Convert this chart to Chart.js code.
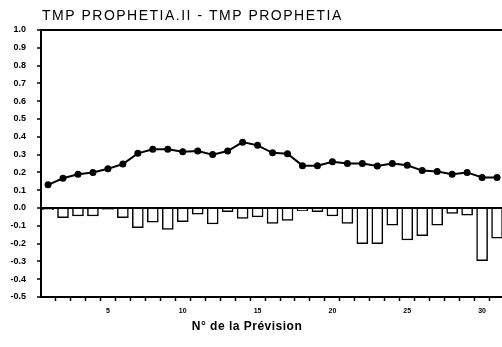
<!DOCTYPE html>
<html>
<head>
<meta charset="utf-8">
<script src="https://cdn.jsdelivr.net/npm/chart.js@4"></script>
<style>
  html, body { margin: 0; padding: 0; background: #fff; }
  #wrap { width: 502px; height: 347px; position: relative; }
</style>
</head>
<body>
<div id="wrap"><canvas id="chart"></canvas></div>
<script>
  // Forecast number (N° de la Prévision)
  var forecastNo = [1, 2, 3, 4, 5, 6, 7, 8, 9, 10, 11, 12, 13, 14, 15, 16,
    17, 18, 19, 20, 21, 22, 23, 24, 25, 26, 27, 28, 29, 30, 31];
  // upper line series
  var lineValues = [0.13, 0.167, 0.19, 0.20, 0.22, 0.247, 0.307, 0.33, 0.33, 0.316,
    0.32, 0.30, 0.32, 0.37, 0.352, 0.31, 0.305, 0.238, 0.238, 0.26, 0.25, 0.25,
    0.236, 0.25, 0.24, 0.21, 0.205, 0.19, 0.20, 0.172, 0.172];
  // lower bar series (all negative)
  var barValues = [-0.01, -0.055, -0.045, -0.045, -0.008, -0.055, -0.11, -0.08, -0.12, -0.077,
    -0.035, -0.09, -0.02, -0.058, -0.05, -0.086, -0.07, -0.015, -0.02, -0.045, -0.086,
    -0.2, -0.2, -0.096, -0.18, -0.155, -0.096, -0.03, -0.04, -0.296, -0.17];
  var xLabelEvery = 5;
  var chartTitle = 'TMP PROPHETIA.II - TMP PROPHETIA';
  var xTitle = 'N° de la Prévision';

  var FONT = '"Liberation Sans", Arial, Helvetica, sans-serif';

  function pts(vals) {
    return vals.map(function (v, i) { return { x: forecastNo[i], y: v }; });
  }

  // both titles drawn at fixed spots (the x title sits left of centre in the original)
  var titlePlugin = {
    id: 'fixedTitles',
    afterDraw: function (chart) {
      var ctx = chart.ctx;
      ctx.save();
      ctx.fillStyle = '#000';
      ctx.textBaseline = 'middle';
      ctx.textAlign = 'left';
      ctx.font = '14px ' + FONT;
      if ('letterSpacing' in ctx) ctx.letterSpacing = '1.5px';
      ctx.fillText(chartTitle, 42, 16);
      if ('letterSpacing' in ctx) ctx.letterSpacing = '0.5px';
      ctx.textAlign = 'center';
      ctx.font = 'bold 12px ' + FONT;
      ctx.fillText(xTitle, 247, 327);
      ctx.restore();
    }
  };

  new Chart(document.getElementById('chart').getContext('2d'), {
    type: 'bar',
    data: {
      datasets: [{
        type: 'line',
        data: pts(lineValues),
        borderColor: '#000',
        backgroundColor: '#000',
        borderWidth: 2,
        pointRadius: 2.5,
        pointBackgroundColor: '#000',
        tension: 0,
        order: 0
      }, {
        type: 'bar',
        data: pts(barValues),
        backgroundColor: '#fff',
        borderColor: '#000',
        borderWidth: 1.5,
        barThickness: 11,
        order: 1
      }]
    },
    options: {
      responsive: true,
      maintainAspectRatio: false,
      animation: false,
      layout: { autoPadding: false, padding: { top: 30, right: 0, left: 0, bottom: 0 } },
      plugins: { legend: { display: false }, tooltip: { enabled: false } },
      scales: {
        x: {
          type: 'linear',
          min: 0.53,
          max: 31.33,
          offset: false,
          afterBuildTicks: function (s) {
            s.ticks = forecastNo.map(function (n) { return { value: n }; });
          },
          afterFit: function (s) { s.height = 50; s.paddingRight = 0; },
          border: { display: true, color: '#000', width: 2 },
          grid: { drawOnChartArea: false, tickLength: 4, tickColor: '#000', tickWidth: 1.5 },
          ticks: {
            autoSkip: false,
            maxRotation: 0,
            padding: 6,
            color: '#000',
            font: { family: FONT, size: 7, weight: 'bold' },
            callback: function (v) { return v % xLabelEvery === 0 ? String(v) : ''; }
          }
        },
        y: {
          min: -0.5,
          max: 1.0,
          afterFit: function (s) { s.width = 41; },
          border: { display: true, color: '#000', width: 2 },
          grid: {
            drawOnChartArea: true,
            tickLength: 4,
            tickColor: '#000',
            tickWidth: 1.5,
            lineWidth: 2,
            color: function (c) {
              var v = c.tick ? c.tick.value : null;
              if (v == null) return 'rgba(0,0,0,0)';
              return (Math.abs(v) < 1e-9 || Math.abs(v - 1) < 1e-9) ? '#000' : 'rgba(0,0,0,0)';
            }
          },
          ticks: {
            stepSize: 0.1,
            padding: 11,
            color: '#000',
            font: { family: FONT, size: 9, weight: 'bold' },
            callback: function (v) { return v.toFixed(1); }
          }
        }
      }
    },
    plugins: [titlePlugin]
  });
</script>
</body>
</html>
